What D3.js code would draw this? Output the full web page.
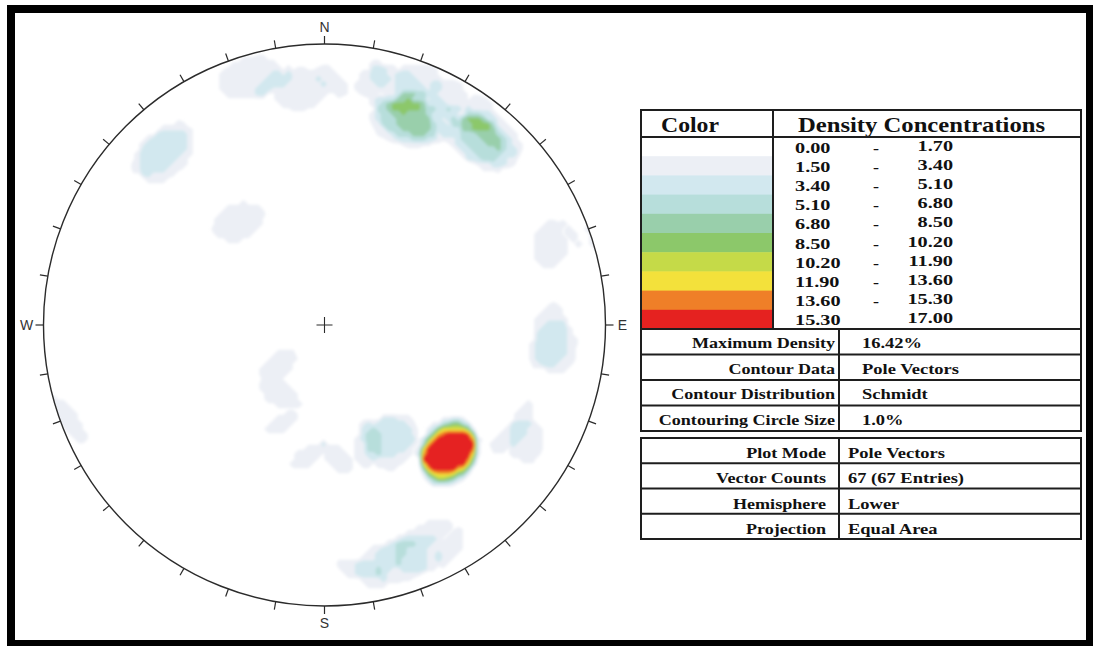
<!DOCTYPE html>
<html>
<head>
<meta charset="utf-8">
<script src="https://cdn.jsdelivr.net/npm/d3@7"></script>
<style>
  html, body { margin: 0; padding: 0; background: #fff; }
  svg { display: block; }
</style>
</head>
<body>
<svg id="chart" width="1093" height="646"></svg>
<script>
// ---- Pole vectors, lower hemisphere (trend, plunge in degrees) ----
const poleTrend = [
  133.7, 134.6, 133.9, 135.0, 136.2, 135.0, 136.2, 137.1, 136.6, 137.5, 135.3,
  148.1, 149.1, 153.4,
  117.6, 116.1, 123.6,
  19.7, 21.7, 21.7, 24.0, 25.6,
  16.1, 18.0,
  6.4,
  37.4, 41.6, 40.1, 42.0,
  32.1, 41.0,
  24.1,
  342.1, 344.6, 351.8, 356.6, 268.6,
  67.4, 73.5, 66.7,
  252.2,
  92.6, 97.5, 93.2,
  317.3, 318.0, 315.5,
  322.1, 317.9,
  245.9, 213.2, 214.0, 194.2, 180.8, 166.9,
  168.7, 164.2, 160.3, 155.0, 152.9, 146.4, 174.2,
  280.6, 104.4, 2.5, 226.7, 201.8
];
const polePlunge = [
  38.7, 38.7, 37.5, 37.3, 37.5, 35.9, 36.1, 35.6, 34.7, 34.7, 36.6,
  54.3, 49.7, 50.4,
  27.9, 17.6, 19.5,
  22.9, 20.4, 24.1, 22.4, 18.7,
  14.0, 7.2,
  11.4,
  15.6, 12.0, 16.1, 14.9,
  8.4, 6.3,
  8.4,
  9.2, 8.5, 16.7, 16.7, 28.3,
  17.9, 13.4, 1.0,
  7.7,
  22.4, 19.0, 18.1,
  13.9, 18.2, 17.8,
  47.6, 53.1,
  72.1, 70.9, 61.8, 55.1, 47.1, 53.7,
  17.7, 12.2, 12.2, 13.5, 22.3, 6.7, 8.5,
  49.7, 48.5, 50.1, 25.7, 10.9
];

// ---- Contour classes ----
const levels = [0, 1.7, 3.4, 5.1, 6.8, 8.5, 10.2, 11.9, 13.6, 15.3, 17.0];
const levelColors = ["#ffffff", "#eceff5", "#d2e8ef", "#b7dedb", "#99cfab",
                     "#8cc86a", "#c5da48", "#f3e13b", "#ef7f28", "#e52220"];
const rangeLow  = ["0.00", "1.50", "3.40", "5.10", "6.80", "8.50", "10.20", "11.90", "13.60", "15.30"];
const rangeHigh = ["1.70", "3.40", "5.10", "6.80", "8.50", "10.20", "11.90", "13.60", "15.30", "17.00"];

// ---- Compass ----
const directions = ["N", "E", "S", "W"];
const tickStep = 10;

// ---- Settings tables ----
const countingCircle = 1.0;          // % of hemisphere area
const contourData = "Pole Vectors";
const contourDistribution = "Schmidt";
const plotMode = "Pole Vectors";
const hemisphere = "Lower";
const projection = "Equal Area";
const infoLabels1 = ["Maximum Density", "Contour Data", "Contour Distribution", "Contouring Circle Size"];
const infoLabels2 = ["Plot Mode", "Vector Counts", "Hemisphere", "Projection"];

// ================== drawing ==================
const svg = d3.select("#chart");
const cx = 324.5, cy = 325, R = 281;
const serif = "'Liberation Serif', 'Times New Roman', serif";

// --- Schmidt counting-circle density on a grid (axial, lower hemisphere) ---
const rad = Math.PI / 180;
const poles = poleTrend.map((t, i) => {
  const p = polePlunge[i] * rad, tr = t * rad;
  return [Math.cos(p) * Math.sin(tr), Math.cos(p) * Math.cos(tr), Math.sin(p)];
});
const cosLimit = 1 - countingCircle / 100;
const cell = 5;
const n = Math.ceil((2 * R) / cell) + 3;
const x0 = cx - R - cell, y0 = cy - R - cell;
const values = new Float64Array(n * n);
let maxCount = 0;
for (let j = 0; j < n; j++) {
  for (let i = 0; i < n; i++) {
    const dx = x0 + i * cell - cx, dy = y0 + j * cell - cy;
    const q = Math.min(Math.hypot(dx, dy) / R, 1);
    const a = 2 * Math.asin(q / Math.SQRT2);
    const t = Math.atan2(dx, -dy);
    const v = [Math.sin(a) * Math.sin(t), Math.sin(a) * Math.cos(t), Math.cos(a)];
    let c = 0;
    for (const p of poles) {
      if (Math.abs(v[0] * p[0] + v[1] * p[1] + v[2] * p[2]) >= cosLimit) c++;
    }
    if (Math.hypot(dx, dy) <= R) maxCount = Math.max(maxCount, c);
    values[j * n + i] = (c / poles.length) * 100;
  }
}

const defs = svg.append("defs");
defs.append("clipPath").attr("id", "net")
  .append("circle").attr("cx", cx).attr("cy", cy).attr("r", R);
defs.append("filter").attr("id", "soft")
  .attr("x", "-5%").attr("y", "-5%").attr("width", "110%").attr("height", "110%")
  .append("feGaussianBlur").attr("stdDeviation", 1.5);

const contours = d3.contours().size([n, n]).thresholds(levels.slice(1, -1))(values);
const gridToPx = d3.geoIdentity().scale(cell).translate([x0 - cell / 2, y0 - cell / 2]);
const path = d3.geoPath(gridToPx);

svg.append("circle").attr("cx", cx).attr("cy", cy).attr("r", R).attr("fill", "#fff");
svg.append("g").attr("clip-path", "url(#net)")
  .append("g").attr("filter", "url(#soft)")
  .selectAll("path").data(contours).join("path")
  .attr("d", path)
  .attr("fill", (d, i) => levelColors[i + 1]);

// --- Net outline, ticks, cardinal labels, centre cross ---
svg.append("circle").attr("cx", cx).attr("cy", cy).attr("r", R)
  .attr("fill", "none").attr("stroke", "#2b2b2b").attr("stroke-width", 1.4);

const tickAngles = d3.range(0, 360, tickStep);
svg.append("g").selectAll("line").data(tickAngles).join("line")
  .attr("x1", d => cx + R * Math.sin(d * rad))
  .attr("y1", d => cy - R * Math.cos(d * rad))
  .attr("x2", d => cx + (R + 8) * Math.sin(d * rad))
  .attr("y2", d => cy - (R + 8) * Math.cos(d * rad))
  .attr("stroke", "#2b2b2b").attr("stroke-width", 1.2);

svg.append("g").selectAll("text").data(directions).join("text")
  .attr("x", (d, i) => cx + (R + 17) * Math.sin(i * 90 * rad))
  .attr("y", (d, i) => cy - (R + 17) * Math.cos(i * 90 * rad) + 5)
  .attr("text-anchor", "middle")
  .attr("font-family", "'Liberation Sans', Arial, sans-serif")
  .attr("font-size", 14).attr("fill", "#333")
  .text(d => d);

svg.append("path")
  .attr("d", `M${cx - 8},${cy}H${cx + 8}M${cx},${cy - 8}V${cy + 8}`)
  .attr("stroke", "#2b2b2b").attr("stroke-width", 1.1);

// --- text helper: horizontally widened bold serif text ---
function wideText(g, x, y, str, size, factor, anchor) {
  const t = g.append("text").attr("x", x).attr("y", y)
    .attr("font-family", serif).attr("font-weight", "bold")
    .attr("font-size", size).attr("fill", "#111").text(str);
  const w = t.node().getComputedTextLength() * factor;
  t.attr("textLength", w).attr("lengthAdjust", "spacingAndGlyphs");
  if (anchor === "end") t.attr("x", x - w);
  if (anchor === "middle") t.attr("x", x - w / 2);
  return t;
}

// --- Density legend table ---
const lg = svg.append("g");
const band = d3.scaleBand().domain(d3.range(levelColors.length)).range([137, 329]);
lg.selectAll("rect.band").data(levelColors).join("rect")
  .attr("x", 641).attr("width", 132)
  .attr("y", (d, i) => band(i)).attr("height", band.bandwidth() + 0.5)
  .attr("fill", d => d);

rangeLow.forEach((s, i) => {
  const yb = band(i) + band.bandwidth() / 2 + 6;
  wideText(lg, 795, yb, s, 15, 1.35, "start");
  wideText(lg, 953, yb - 2, rangeHigh[i], 15, 1.35, "end");
  if (i < rangeLow.length - 1) wideText(lg, 876, yb, "-", 15, 1.2, "middle");
});

wideText(lg, 661, 132, "Color", 21, 1.13, "start");
wideText(lg, 798, 132, "Density Concentrations", 22, 1.12, "start");

const stroke = "#1e1e1e";
lg.append("rect").attr("x", 641).attr("y", 110).attr("width", 440).attr("height", 219)
  .attr("fill", "none").attr("stroke", stroke).attr("stroke-width", 2);
lg.append("line").attr("x1", 641).attr("x2", 1081).attr("y1", 137).attr("y2", 137)
  .attr("stroke", stroke).attr("stroke-width", 2);
lg.append("line").attr("x1", 773).attr("x2", 773).attr("y1", 110).attr("y2", 329)
  .attr("stroke", stroke).attr("stroke-width", 2);

// --- Settings tables ---
const maxDensity = (maxCount / poles.length * 100).toFixed(2) + "%";
const infoValues1 = [maxDensity, contourData, contourDistribution, countingCircle.toFixed(1) + "%"];
const infoValues2 = [plotMode, `${poles.length} (${poles.length} Entries)`, hemisphere, projection];

function infoTable(top, bottom, labels, vals, labelRight, valueX, baseOff) {
  const g = svg.append("g");
  const y = d3.scaleBand().domain(labels).range([top, bottom]);
  labels.forEach((l, i) => {
    wideText(g, labelRight, y(l) + baseOff, l, 14, 1.29, "end");
    wideText(g, valueX, y(l) + baseOff, vals[i], 14, 1.32, "start");
  });
  g.append("rect").attr("x", 641).attr("y", top).attr("width", 440).attr("height", bottom - top)
    .attr("fill", "none").attr("stroke", stroke).attr("stroke-width", 2);
  g.selectAll("line.row").data(labels.slice(1)).join("line")
    .attr("x1", 641).attr("x2", 1081)
    .attr("y1", d => y(d)).attr("y2", d => y(d))
    .attr("stroke", stroke).attr("stroke-width", 2);
  g.append("line").attr("x1", 839).attr("x2", 839).attr("y1", top).attr("y2", bottom)
    .attr("stroke", stroke).attr("stroke-width", 2);
}
infoTable(329, 431, infoLabels1, infoValues1, 835, 862, 19);
infoTable(438, 539, infoLabels2, infoValues2, 826, 848, 20);

// --- Outer frame ---
svg.append("rect").attr("x", 11).attr("y", 9).attr("width", 1079).attr("height", 635)
  .attr("fill", "none").attr("stroke", "#000").attr("stroke-width", 8);
</script>
</body>
</html>
